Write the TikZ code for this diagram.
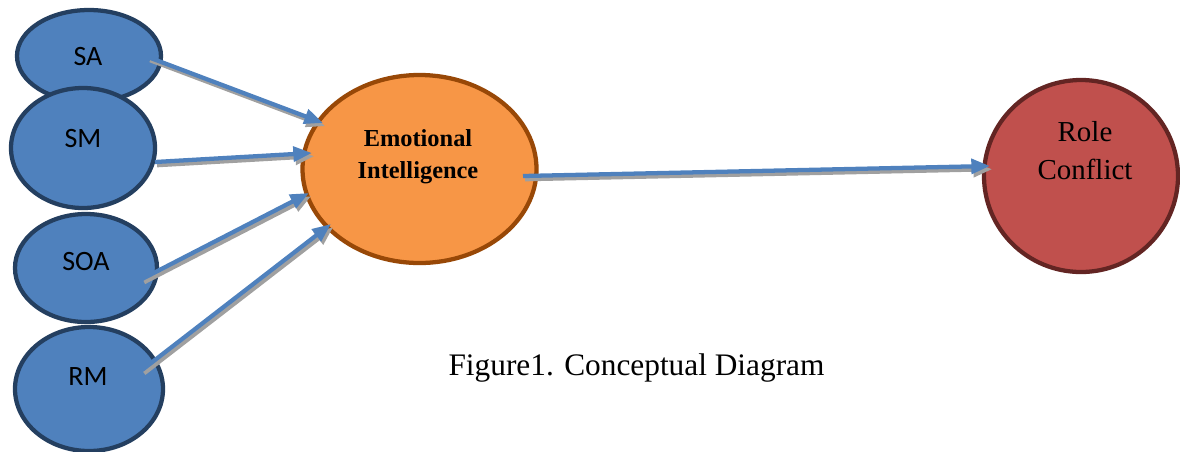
\documentclass[tikz,border=0pt]{standalone}
\usepackage{fontspec}
\setmainfont{Liberation Serif}
\newfontfamily\carlito{Carlito}
\usetikzlibrary{shapes.geometric,arrows.meta,calc}
\definecolor{bfill}{HTML}{4F81BD}
\definecolor{bdraw}{HTML}{243F60}
\definecolor{ofill}{HTML}{F79646}
\definecolor{odraw}{HTML}{984807}
\definecolor{rfill}{HTML}{C0504D}
\definecolor{rdraw}{HTML}{632523}
\definecolor{arrblue}{HTML}{4F81BD}
\definecolor{shadowgray}{HTML}{A0A0A0}
\tikzset{
  bell/.style={ellipse, draw=bdraw, fill=bfill, line width=3.2pt, inner sep=0pt},
  eiell/.style={ellipse, draw=odraw, fill=ofill, line width=3.2pt, inner sep=0pt},
  rcell/.style={ellipse, draw=rdraw, fill=rfill, line width=3.2pt, inner sep=0pt},
  smalltxt/.style={font=\carlito\fontsize{21pt}{25pt}\selectfont, inner sep=0pt, anchor=base},
  conn/.style={line width=3.2pt, color=arrblue, -{Triangle[length=14pt,width=11pt]}},
  connshadow/.style={line width=3.2pt, color=shadowgray, -{Triangle[length=14pt,width=11pt]},
    transform canvas={shift={(1.6pt,-2.4pt)}}},
}
\begin{document}
\begin{tikzpicture}[x=0.75pt,y=-0.75pt]
\useasboundingbox (0,0) rectangle (1180,451);
% source ellipses
\node[bell, minimum width=108pt, minimum height=69pt] (sa) at (89,56) {};
\node[bell, minimum width=108pt, minimum height=90pt] (sm) at (83,148) {};
\node[bell, minimum width=106.5pt, minimum height=81pt] (soa) at (86,268) {};
\node[bell, minimum width=111pt, minimum height=93pt] (rm) at (89,389) {};
\node[smalltxt] (saT) at (88,65) {SA};
\node[smalltxt] (smT) at (83,147) {SM};
\node[smalltxt] (soaT) at (86,270) {SOA};
\node[smalltxt] (rmT) at (88,385) {RM};
% central and outcome
\node[eiell, minimum width=175.5pt, minimum height=141pt] (ei) at (419.5,169) {};
\node[align=center, inner sep=0pt, font=\bfseries\fontsize{18.3pt}{24pt}\selectfont] (eiT) at (418,157) {Emotional\\Intelligence};
\node[rcell, minimum width=145.5pt, minimum height=144pt] (rc) at (1081,176) {};
\node[align=center, inner sep=0pt, font=\fontsize{21.7pt}{28.5pt}\selectfont] (rcT) at (1085,151) {Role\\Conflict};
% caption
\node[inner sep=0pt, anchor=base, font=\fontsize{23.5pt}{28pt}\selectfont] (cap) at (636.5,375) {Figure1. Conceptual Diagram};
% connectors: shadows
\draw[connshadow] ([shift={(59,1)}]sa.center) -- ([shift={(-96.5,-46)}]ei.center);
\draw[connshadow] ([shift={(72,14)}]sm.center) -- ([shift={(-107.5,-16)}]ei.center);
\draw[connshadow] ([shift={(56,11)}]soa.center) -- ([shift={(-110.5,24)}]ei.center);
\draw[connshadow] ([shift={(53,-19)}]rm.center) -- ([shift={(-88.5,55)}]ei.center);
\draw[connshadow] ([shift={(103.5,7)}]ei.center) -- ([shift={(-91,-10)}]rc.center);
% connectors
\draw[conn] ([shift={(59,1)}]sa.center) -- ([shift={(-96.5,-46)}]ei.center);
\draw[conn] ([shift={(72,14)}]sm.center) -- ([shift={(-107.5,-16)}]ei.center);
\draw[conn] ([shift={(56,11)}]soa.center) -- ([shift={(-110.5,24)}]ei.center);
\draw[conn] ([shift={(53,-19)}]rm.center) -- ([shift={(-88.5,55)}]ei.center);
\draw[conn] ([shift={(103.5,7)}]ei.center) -- ([shift={(-91,-10)}]rc.center);
\end{tikzpicture}
\end{document}
